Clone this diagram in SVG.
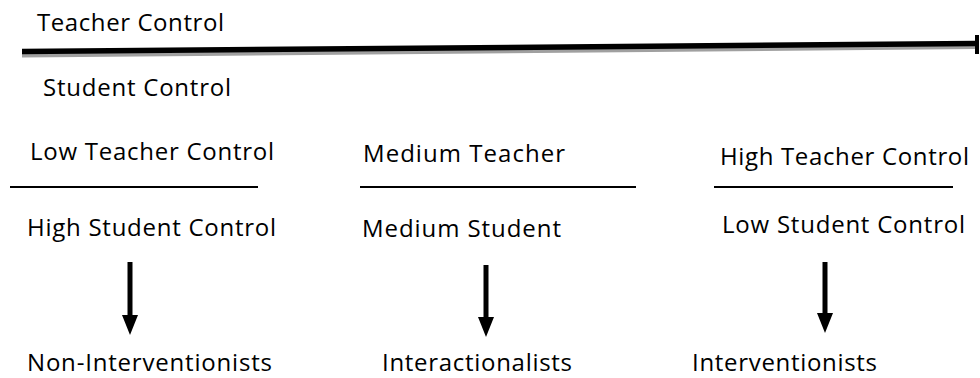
<svg xmlns="http://www.w3.org/2000/svg" width="980" height="378" viewBox="0 0 980 378">
<style>
text{font-family:"Open Sans",Lato,"Liberation Sans",sans-serif;font-size:24px;fill:#000}
.sep{stroke:#000;stroke-width:2}
.arr{stroke:#000;stroke-width:5;marker-end:url(#ah)}
</style>
<defs>
<marker id="ah" markerUnits="userSpaceOnUse" viewBox="0 0 20 16" markerWidth="20" markerHeight="16" refX="0" refY="8" orient="auto">
<path d="M0,0 L20,8 L0,16 z" fill="#000"/>
</marker>
</defs>
<rect width="980" height="378" fill="#fff"/>
<g id="axis">
<line x1="22" y1="55.5" x2="975" y2="47" stroke="#a0a0a0" stroke-width="4"/>
<line x1="22" y1="51.5" x2="975" y2="43.5" stroke="#000" stroke-width="5.5"/>
<rect x="975" y="35" width="4" height="19" fill="#000"/>
<text x="37" y="31" textLength="187">Teacher Control</text>
<text x="43" y="96" textLength="188">Student Control</text>
</g>
<g id="low">
<text x="30" y="160" textLength="244">Low Teacher Control</text>
<line class="sep" x1="10" y1="187" x2="258" y2="187"/>
<text x="27" y="236" textLength="249">High Student Control</text>
</g>
<g id="medium">
<text x="363" y="162" textLength="202">Medium Teacher</text>
<line class="sep" x1="360" y1="187" x2="636" y2="187"/>
<text x="362" y="237" textLength="199">Medium Student</text>
</g>
<g id="high">
<text x="720" y="165" textLength="249">High Teacher Control</text>
<line class="sep" x1="714" y1="187" x2="953" y2="187"/>
<text x="722" y="233" textLength="243">Low Student Control</text>
</g>
<g id="connectors">
<line class="arr" x1="130" y1="262" x2="130" y2="315"/>
<line class="arr" x1="486" y1="265" x2="486" y2="317"/>
<line class="arr" x1="825" y1="262" x2="825" y2="313"/>
</g>
<g id="non-interventionists">
<text x="27" y="371" textLength="245">Non-Interventionists</text>
</g>
<g id="interactionalists">
<text x="382" y="371" textLength="190">Interactionalists</text>
</g>
<g id="interventionists">
<text x="692" y="371" textLength="185">Interventionists</text>
</g>
</svg>
